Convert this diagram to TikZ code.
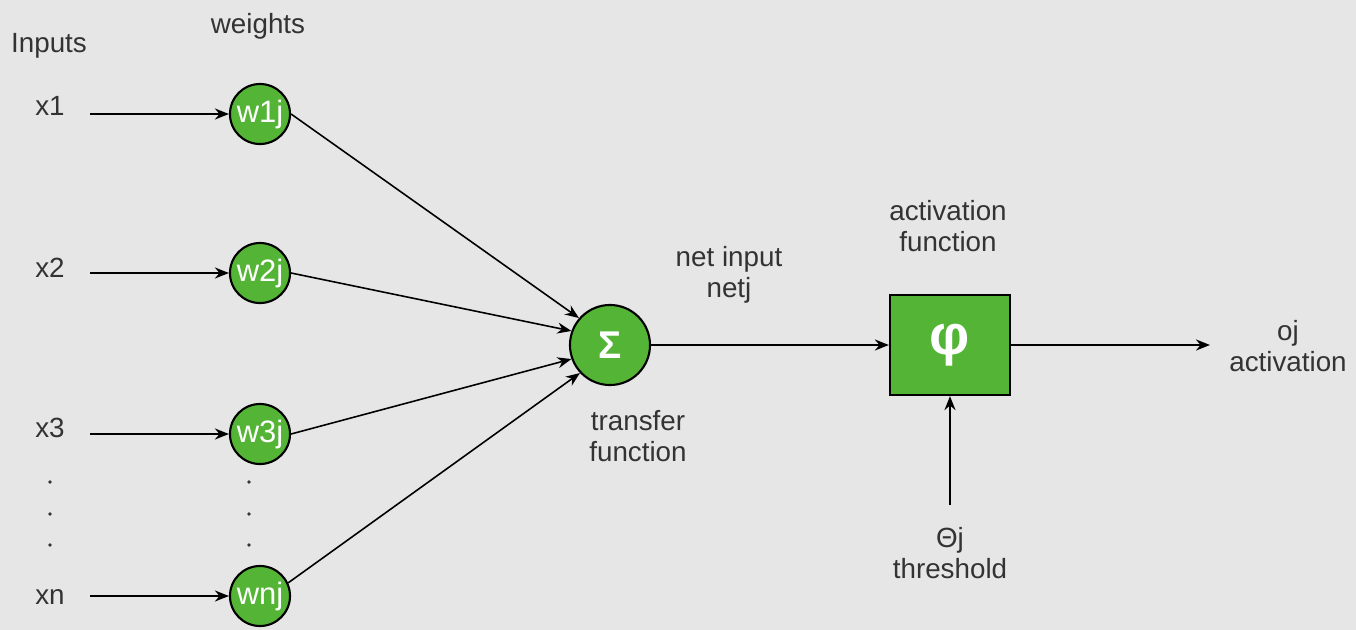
\documentclass[tikz,border=0pt]{standalone}
\usepackage{fontspec}
\setmainfont{Liberation Sans}
\usetikzlibrary{arrows.meta, positioning}

\definecolor{bggray}{RGB}{230,230,230}
\definecolor{leafgreen}{RGB}{84,180,53}
\definecolor{inkgray}{RGB}{51,51,51}

\begin{document}
\begin{tikzpicture}[
    x=0.01cm, y=-0.01cm,
    >={Stealth[length=1.4mm, width=1.1mm]},
    every path/.style={line width=0.6pt, draw=black},
    weight/.style={circle, draw=black, fill=leafgreen, minimum size=0.6cm, inner sep=0pt,
        text=white, font=\fontsize{8.8}{10}\selectfont},
    summer/.style={circle, draw=black, fill=leafgreen, minimum size=0.8cm, inner sep=0pt,
        text=white, font=\fontsize{11}{12}\selectfont\bfseries},
    actbox/.style={rectangle, draw=black, fill=leafgreen, minimum width=1.2cm,
        minimum height=1cm, inner sep=0pt, text=white, font=\fontsize{16}{18}\selectfont\bfseries},
    tag/.style={text=inkgray, align=center, inner sep=0pt, font=\fontsize{7.9}{8.8}\selectfont}
]

% Background
\fill[bggray, draw=none] (0,0) rectangle (1356,630);

% Nodes
\node[weight] (w1) at (260,114) {w1j};
\node[weight] (w2) at (260,273) {w2j};
\node[weight] (w3) at (260,434) {w3j};
\node[weight] (wn) at (260,596) {wnj};
\node[summer] (sum) at (610,345) {Σ};
\node[actbox] (phi) at (950,345) {φ};

\coordinate (in1) at (90,114);
\coordinate (in2) at (90,273);
\coordinate (in3) at (90,434);
\coordinate (inn) at (90,596);
\coordinate (out) at (1210,345);
\coordinate (theta) at (950,505);

% Labels
\node[tag] (inputs) at (49,46) {Inputs};
\node[tag] (weights) at (258,26) {weights};
\node[tag] (x1) at (50,106) {x1};
\node[tag] (x2) at (50,268) {x2};
\node[tag] (x3) at (50,428) {x3};
\node[tag] (xn) at (50,597) {xn};
\node[tag] (netin) at (729,275) {net input\\netj};
\node[tag] (transfer) at (638,436) {transfer\\function};
\node[tag] (actfun) at (948,226) {activation\\function};
\node[tag] (oj) at (1288,346) {oj\\activation};
\node[tag] (thresh) at (950,553) {Θj\\threshold};

% Dots
\foreach \y in {482,514,545} {
    \fill[inkgray, draw=none] (50,\y) circle (1.8);
    \fill[inkgray, draw=none] (249,\y) circle (1.8);
}

% Edges
\draw[->] (in1) -- (w1);
\draw[->] (in2) -- (w2);
\draw[->] (in3) -- (w3);
\draw[->] (inn) -- (wn);
\draw[->, line width=0.45pt] (w1.east) -- (sum.139);
\draw[->, line width=0.45pt] (w2.east) -- (sum.160);
\draw[->, line width=0.45pt] (w3.east) -- (sum.200);
\draw[->, line width=0.45pt] (wn.25) -- (sum.223);
\draw[->] (sum) -- (phi);
\draw[->] (phi) -- (out);
\draw[->] (theta) -- (phi);

\end{tikzpicture}
\end{document}
